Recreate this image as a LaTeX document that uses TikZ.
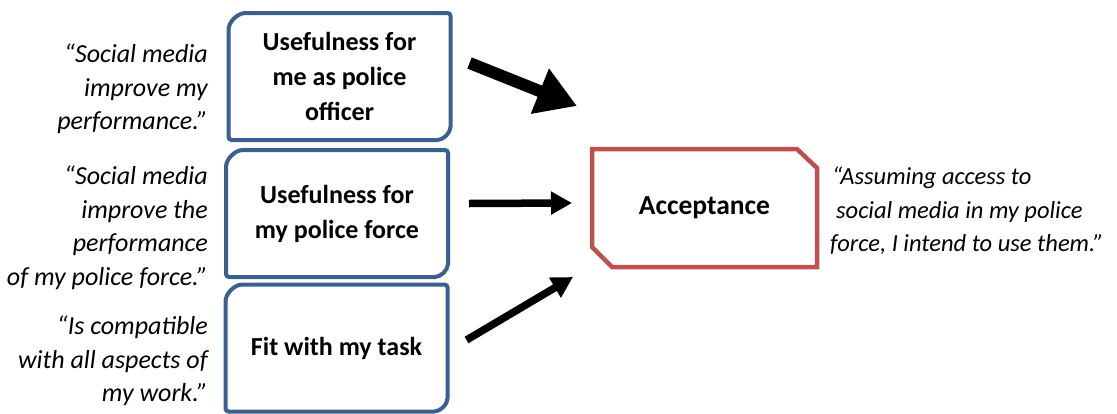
\documentclass[tikz,border=0pt]{standalone}
\usepackage{fontspec}
\setmainfont{Carlito}
\usetikzlibrary{arrows.meta}

\definecolor{boxblue}{HTML}{3B6090}
\definecolor{boxred}{HTML}{C0504D}

\begin{document}
\begin{tikzpicture}[
  x=1pt, y=-1pt,
  factor/.style={
    rectangle, minimum width=222pt, minimum height=127pt,
    outer sep=0pt, inner sep=4pt, align=center,
    font=\fontsize{26}{35}\selectfont\bfseries
  },
  target/.style={
    rectangle, minimum width=225pt, minimum height=118pt,
    outer sep=0pt, align=center,
    font=\fontsize{27.5}{35}\selectfont\bfseries
  },
  quote/.style={
    font=\fontsize{26}{33.5}\selectfont\itshape, inner sep=0pt
  },
  blueline/.style={draw=boxblue, line width=4pt, rounded corners=3pt},
  redline/.style={draw=boxred, line width=4.5pt},
  arr/.style={line width=7.5pt, -{Triangle[length=21pt,width=22pt]}},
  bigarr/.style={line width=12pt, -{Triangle[length=40pt,width=46pt]}},
]
\useasboundingbox (0,0) rectangle (1117,413);

% factors
\node[factor] (use1) at (339.5,76.5) {Usefulness for\\me as police\\officer};
\node[factor] (use2) at (337,213.5)  {Usefulness for\\my police force};
\node[factor] (fit)  at (336.5,348)  {Fit with my task};
\node[target] (acc)  at (704.5,208)  {Acceptance};

% frames with rounded top-left and bottom-right corners
\foreach \b in {use1,use2,fit} {
  \draw[blueline] (\b.south west) -- ([yshift=-20pt]\b.north west)
    arc[start angle=180, end angle=90, radius=20pt] -- (\b.north east)
    -- ([yshift=16pt]\b.south east)
    arc[start angle=0, end angle=-90, radius=16pt] -- cycle;
}
% snipped frame
\draw[redline] (acc.north west) -- ([xshift=-20pt]acc.north east)
  -- ([yshift=-19pt]acc.north east) -- (acc.south east)
  -- ([xshift=20pt]acc.south west) -- ([yshift=20pt]acc.south west) -- cycle;

% quotes
\node[quote, anchor=east, align=right] (q1) at (208,89)
  {``Social media\\improve my\\performance.''};
\node[quote, anchor=east, align=right] (q2) at (208,227.5)
  {``Social media\\improve the\\performance\\of my police force.''};
\node[quote, anchor=east, align=right] (q3) at (208,361)
  {``Is compatible\\with all aspects of\\my work.''};
\node[quote, anchor=west, align=left, font=\fontsize{24.5}{33.5}\selectfont\itshape] (qa) at (830,211)
  {\hspace{2pt}``Assuming access to\\\hspace{6pt}social media in my police\\force, I intend to use them.''};

% arrows
\draw[bigarr] ([xshift=19pt,yshift=13.5pt]use1.east) -- ([xshift=-15pt,yshift=43pt]acc.north west);
\draw[arr] ([xshift=21pt,yshift=10pt]use2.east) -- ([xshift=-20pt,yshift=5pt]acc.west);
\draw[arr] ([xshift=19pt,yshift=8pt]fit.east) -- ([xshift=-19pt,yshift=-10pt]acc.south west);
\end{tikzpicture}
\end{document}
